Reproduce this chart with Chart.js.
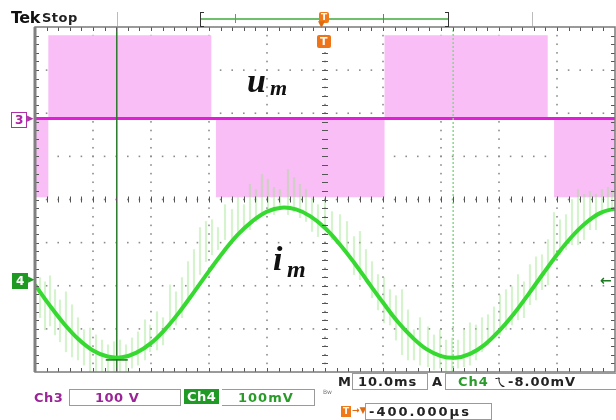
<!DOCTYPE html>
<html>
<head>
<meta charset="utf-8">
<script src="https://cdn.jsdelivr.net/npm/chart.js@4.4.1/dist/chart.umd.min.js"></script>
<style>
  html, body { margin:0; padding:0; background:#fff; }
  #wrap { position:relative; width:616px; height:420px; overflow:hidden; background:#fff; }
  #c { position:absolute; left:0; top:0; }
  .t { position:absolute; white-space:nowrap; font-family:"DejaVu Sans", sans-serif; font-weight:bold; line-height:1; }
  .box { position:absolute; border:1px solid #9a9a9a; background:#fff; }
</style>
</head>
<body>
<div id="wrap">
  <canvas id="c" width="616" height="420"></canvas>
</div>
<script>
// ---------- DATA (time in ms, amplitude in divisions) ----------
const timeScale = [0, 100];          // 10 ms/div, 10 divisions
const ampScale  = [-4, 4];           // 8 vertical divisions

// Ch3 (u_m) PWM envelope: times and levels
const ch3EnvT = [0, 2.3, 2.3, 30.4, 30.4, 31.2, 31.2, 60.2, 60.2, 60.3, 60.3, 88.4, 88.4, 89.5, 89.5, 100];
const ch3EnvV = [0.05, 0.05, 3.81, 3.81, 1.88, 1.88, 0.05, 0.05, 1.88, 1.88, 3.81, 3.81, 1.88, 1.88, 0.05, 0.05];
const ch3Level = 1.88;

// Ch4 (i_m) filtered current
const ch4T = [0,2.5,5,7.5,10,12.5,15,17.5,20,22.5,25,27.5,30,32.5,35,37.5,40,42.5,45,47.5,50,52.5,55,57.5,60,62.5,65,67.5,70,72.5,75,77.5,80,82.5,85,87.5,90,92.5,95,97.5,100];
const ch4V = [-1.98,-2.45,-2.88,-3.24,-3.50,-3.64,-3.66,-3.55,-3.33,-3.00,-2.59,-2.13,-1.66,-1.21,-0.81,-0.50,-0.28,-0.19,-0.23,-0.39,-0.66,-1.03,-1.46,-1.93,-2.39,-2.83,-3.19,-3.47,-3.63,-3.67,-3.58,-3.37,-3.05,-2.66,-2.21,-1.74,-1.28,-0.87,-0.54,-0.31,-0.21];

// Ch4 raw switching ripple (vertical spread lo..hi)
const noiseT  = [0.86,1.72,2.59,3.45,4.31,5.34,6.38,7.41,8.45,9.48,10.52,11.55,12.59,13.62,14.66,15.69,16.72,17.76,18.97,19.83,21.03,22.07,23.28,24.31,25.34,26.38,27.41,28.45,29.48,30.52,31.55,32.76,33.97,35.0,36.03,37.07,38.10,39.14,40.17,41.21,42.24,43.62,44.66,45.69,46.72,47.76,48.79,50.0,51.21,52.59,53.79,55.0,56.03,57.07,58.10,59.14,60.17,61.21,62.24,63.28,64.31,65.34,66.38,67.76,68.79,69.83,70.86,71.90,72.93,73.97,75.0,76.03,77.07,78.10,79.14,80.17,81.21,82.24,83.28,84.31,85.34,86.38,87.41,88.45,89.48,90.52,91.55,92.59,93.62,94.66,95.69,96.72,97.76,98.79,99.48];
const noiseLo = [-2.74,-3.02,-2.93,-3.14,-3.30,-3.53,-3.65,-3.72,-3.84,-4.0,-4.0,-4.0,-4.0,-4.0,-4.0,-4.0,-3.91,-3.84,-3.72,-3.53,-3.49,-3.37,-3.02,-2.91,-2.74,-2.33,-2.09,-1.74,-1.44,-1.28,-1.16,-0.93,-0.93,-0.74,-0.65,-0.70,-0.51,-0.35,-0.28,-0.35,-0.23,-0.35,-0.28,-0.42,-0.51,-0.74,-0.86,-0.65,-0.93,-1.05,-1.28,-1.74,-1.86,-1.91,-2.28,-2.56,-2.86,-2.91,-3.26,-3.60,-3.72,-3.72,-3.84,-3.88,-3.95,-3.91,-4.0,-4.0,-3.91,-3.88,-3.84,-3.72,-3.53,-3.37,-3.14,-3.14,-3.02,-2.91,-2.79,-2.74,-2.44,-2.33,-2.09,-1.98,-1.44,-1.28,-1.16,-1.05,-1.05,-0.93,-0.70,-0.70,-0.35,-0.28,-0.23];
const noiseHi = [-1.81,-1.91,-1.77,-2.09,-2.33,-2.14,-2.44,-2.74,-3.02,-2.98,-3.14,-3.26,-3.37,-3.30,-3.26,-3.37,-3.21,-3.07,-2.79,-2.91,-2.60,-2.74,-1.98,-2.14,-1.81,-1.44,-1.16,-0.65,-0.51,-0.47,-0.65,-0.12,-0.23,0.05,-0.12,0.35,0.23,0.58,0.47,0.28,0.23,0.70,0.51,0.35,0.23,0.05,-0.12,0.0,-0.28,-0.35,-0.51,-0.86,-0.74,-1.16,-1.44,-1.74,-1.81,-2.09,-2.23,-2.09,-2.56,-3.02,-2.74,-2.95,-3.14,-3.02,-3.26,-3.21,-3.26,-3.02,-2.86,-2.91,-2.74,-2.67,-2.49,-2.21,-2.09,-2.02,-1.74,-1.91,-1.51,-1.33,-1.28,-0.93,-0.30,-0.47,-0.35,0.0,0.23,0.12,0.19,0.12,0.23,0.28,0.23];

// Cursors (ms)
const cursorSolid = 14.1;
const cursorDashed = 72.1;
const cursorMark = -3.72;

// ---------- TEXT OVERLAYS ----------
const wrap = document.getElementById('wrap');
function addText(txt, x, y, style) {
  const s = document.createElement('span');
  s.className = 't';
  s.textContent = txt;
  s.style.left = x + 'px'; s.style.top = y + 'px';
  Object.assign(s.style, style || {});
  wrap.appendChild(s);
  return s;
}
function addBox(x, y, w, h, style) {
  const d = document.createElement('div');
  d.className = 'box';
  d.style.left = x + 'px'; d.style.top = y + 'px';
  d.style.width = w + 'px'; d.style.height = h + 'px';
  Object.assign(d.style, style || {});
  wrap.appendChild(d);
  return d;
}

// ---------- PLUGINS ----------
const bg = {
  id: 'bg',
  beforeDraw(chart) {
    const ctx = chart.ctx;
    ctx.save(); ctx.fillStyle = '#fff'; ctx.fillRect(0, 0, chart.width, chart.height); ctx.restore();
  }
};
const graticule = {
  id: 'graticule',
  beforeDatasetsDraw(chart) {
    const { ctx, chartArea: a, scales: { x, y } } = chart;
    ctx.save();
    ctx.fillStyle = '#8c8c8c';
    // dotted grid lines
    for (let i = 1; i < 10; i++) {
      const px = x.getPixelForValue(i * 10);
      for (let j = 1; j < 40; j++) {
        const py = y.getPixelForValue(-4 + j * 0.2);
        ctx.fillRect(px - 0.8, py - 0.8, 1.6, 1.6);
      }
    }
    for (let j = 1; j < 8; j++) {
      const py = y.getPixelForValue(-4 + j);
      for (let i = 1; i < 50; i++) {
        const px = x.getPixelForValue(i * 2);
        ctx.fillRect(px - 0.8, py - 0.8, 1.6, 1.6);
      }
    }
    ctx.restore();
  },
  afterDatasetsDraw(chart) {
    const { ctx, chartArea: a, scales: { x, y } } = chart;
    ctx.save();
    ctx.strokeStyle = '#555';
    ctx.lineWidth = 1;
    const cx = x.getPixelForValue(50), cy = y.getPixelForValue(0);
    ctx.beginPath();
    // center cross ticks
    for (let j = 1; j < 40; j++) {
      const py = Math.round(y.getPixelForValue(-4 + j * 0.2)) + 0.5;
      ctx.moveTo(cx - 3, py); ctx.lineTo(cx + 3, py);
      ctx.moveTo(a.left, py); ctx.lineTo(a.left + 4, py);
      ctx.moveTo(a.right, py); ctx.lineTo(a.right - 4, py);
    }
    for (let i = 1; i < 50; i++) {
      const px = Math.round(x.getPixelForValue(i * 2)) + 0.5;
      ctx.moveTo(px, cy - 3); ctx.lineTo(px, cy + 3);
      ctx.moveTo(px, a.top); ctx.lineTo(px, a.top + 4);
      ctx.moveTo(px, a.bottom); ctx.lineTo(px, a.bottom - 4);
    }
    ctx.stroke();
    // frame
    ctx.strokeStyle = '#7a7a7a';
    ctx.lineWidth = 1.5;
    ctx.strokeRect(a.left, a.top, a.right - a.left, a.bottom - a.top);
    ctx.strokeStyle = '#808080';
    ctx.lineWidth = 3;
    ctx.beginPath(); ctx.moveTo(a.left, a.top); ctx.lineTo(a.left, a.bottom); ctx.stroke();
    // cursor crosshair mark
    const mx = x.getPixelForValue(cursorSolid), my = y.getPixelForValue(cursorMark);
    ctx.strokeStyle = '#1f6f1f'; ctx.lineWidth = 1.5;
    ctx.beginPath(); ctx.moveTo(mx - 11, my); ctx.lineTo(mx + 11, my); ctx.stroke();
    ctx.restore();
  }
};

// ---------- CHART ----------
const envData = ch3EnvT.map((t, i) => ({ x: t, y: ch3EnvV[i] }));
const ch4Data = ch4T.map((t, i) => ({ x: t, y: ch4V[i] }));
const noiseData = noiseT.map((t, i) => ({ x: t, y: [noiseLo[i], noiseHi[i]] }));

new Chart(document.getElementById('c'), {
  type: 'line',
  data: {
    datasets: [
      { label: 'i_m', data: ch4Data, borderColor: '#35d930', borderWidth: 4, pointRadius: 0, tension: 0.4, order: 1 },
      { label: 'cursor1', data: [{ x: cursorSolid, y: ampScale[0] }, { x: cursorSolid, y: ampScale[1] }], borderColor: '#2a7a2a', borderWidth: 1.5, pointRadius: 0, order: 2 },
      { label: 'cursor2', data: [{ x: cursorDashed, y: ampScale[0] }, { x: cursorDashed, y: ampScale[1] }], borderColor: '#86d986', borderWidth: 1.5, borderDash: [2, 2], pointRadius: 0, order: 2 },
      { type: 'bar', label: 'ripple', data: noiseData, backgroundColor: 'rgba(150,228,130,0.4)', borderWidth: 0, barThickness: 1.5, order: 3 },
      { label: 'u_m level', data: [{ x: timeScale[0], y: ch3Level }, { x: timeScale[1], y: ch3Level }], borderColor: '#e01fd6', borderWidth: 3, pointRadius: 0, order: 4 },
      { label: 'u_m PWM', data: envData, borderWidth: 0, backgroundColor: '#f8bef5', fill: { value: ch3Level }, pointRadius: 0, tension: 0, order: 5 }
    ]
  },
  options: {
    responsive: false,
    animation: false,
    events: [],
    layout: { padding: { left: 35, right: 1, top: 27, bottom: 48 } },
    plugins: { legend: { display: false }, tooltip: { enabled: false }, title: { display: false } },
    scales: {
      x: { type: 'linear', min: timeScale[0], max: timeScale[1], display: false, offset: false },
      y: { type: 'linear', min: ampScale[0], max: ampScale[1], display: false }
    }
  },
  plugins: [bg, graticule]
});

// ---------- TOP STATUS BAR ----------
addText('Tek', 11, 10, { fontSize: '16px', color: '#111', letterSpacing: '-0.5px' });
addText('Stop', 42, 11, { fontSize: '13px', color: '#222', letterSpacing: '0.5px' });
addBox(117, 12, 0, 14, { border: 'none', borderLeft: '1px solid #bbb', background: 'transparent' });
addBox(532, 12, 0, 14, { border: 'none', borderLeft: '1px solid #bbb', background: 'transparent' });
addBox(201, 18, 247, 0, { border: 'none', borderTop: '2px solid #6fbf6f', background: 'transparent' });
addBox(200, 12, 3, 13, { border: '1.5px solid #333', borderRight: 'none', background: 'transparent' });
addBox(445, 12, 3, 13, { border: '1.5px solid #333', borderLeft: 'none', background: 'transparent' });
addBox(235, 14, 0, 9, { border: 'none', borderLeft: '1.5px solid #5aa05a', background: 'transparent' });
addBox(383, 14, 0, 9, { border: 'none', borderLeft: '1.5px solid #777', background: 'transparent' });
// trigger position markers
addText('T', 319, 12, { fontSize: '9px', color: '#fff', background: '#f07a1a', padding: '1px 2px', borderRadius: '2px' });
addText('▼', 318, 20, { fontSize: '9px', color: '#e06a10' });
addText('T', 317, 35, { fontSize: '11px', color: '#fff', background: '#ef7418', padding: '1px 3px', borderRadius: '2px' });

// ---------- CHANNEL MARKERS ----------
addText('3', 11, 112, { fontSize: '12px', color: '#b020a8', border: '1.5px solid #b030a8', padding: '1px 3px', background: '#fff' });
addText('▸', 27, 111, { fontSize: '13px', color: '#b030a8' });
addText('4', 12, 273, { fontSize: '12px', color: '#fff', background: '#1e9a22', padding: '2px 4px' });
addText('▸', 28, 272, { fontSize: '13px', color: '#1e9a22' });
addText('←', 600, 273, { fontSize: '14px', color: '#1e7a22' });

// ---------- SIGNAL LABELS ----------
const serifLbl = { fontFamily: '"Liberation Serif", serif', fontStyle: 'italic', fontWeight: 'bold', color: '#111' };
addText('u', 247, 64, Object.assign({ fontSize: '34px' }, serifLbl));
addText('m', 270, 77, Object.assign({ fontSize: '22px' }, serifLbl));
addText('i', 273, 242, Object.assign({ fontSize: '34px' }, serifLbl));
addText('m', 287, 257, Object.assign({ fontSize: '24px' }, serifLbl));

// ---------- BOTTOM READOUTS ----------
addText('M', 338, 375, { fontSize: '13px', color: '#222' });
addBox(352, 373, 74, 15);
addText('10.0ms', 358, 375, { fontSize: '13px', color: '#222', letterSpacing: '1px' });
addText('A', 432, 375, { fontSize: '13px', color: '#222' });
addBox(445, 373, 175, 15, { borderRight: 'none' });
addText('Ch4', 458, 375, { fontSize: '13px', color: '#2a9a2a', letterSpacing: '1px' });
addText('ㄟ-8.00mV', 494, 375, { fontSize: '13px', color: '#222', letterSpacing: '1px' });

addText('Ch3', 34, 391, { fontSize: '13px', color: '#9a2596', letterSpacing: '0.5px' });
addBox(69, 389, 110, 15);
addText('100 V', 95, 391, { fontSize: '13px', color: '#9a2596', letterSpacing: '0.5px' });
addText('Ch4', 184, 389, { fontSize: '13px', color: '#fff', background: '#1f9a24', padding: '1px 3px', letterSpacing: '0.5px' });
addBox(222, 389, 92, 15, { borderLeft: 'none' });
addText('100mV', 238, 391, { fontSize: '13px', color: '#2a9a2a', letterSpacing: '1px' });
addText('Bw', 323, 389, { fontSize: '6px', color: '#777', fontWeight: 'normal' });

addText('T', 341, 406, { fontSize: '9px', color: '#fff', background: '#f07a1a', padding: '1px 2px' });
addText('→▼', 352, 406, { fontSize: '9px', color: '#e06a10' });
addBox(365, 403, 125, 15);
addText('-400.000µs', 369, 405, { fontSize: '13px', color: '#222', letterSpacing: '2px' });
</script>
</body>
</html>
